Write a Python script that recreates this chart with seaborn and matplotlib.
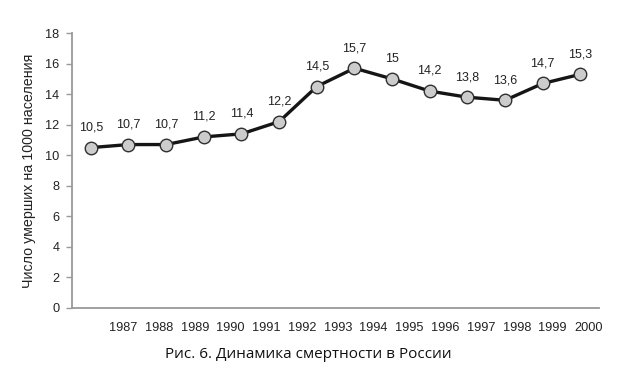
import numpy as np
import pandas as pd
import matplotlib
matplotlib.use("Agg")
import matplotlib.pyplot as plt
import seaborn as sns

# data
years = ["1987", "1988", "1989", "1990", "1991", "1992", "1993",
         "1994", "1995", "1996", "1997", "1998", "1999", "2000"]
mortality = [10.5, 10.7, 10.7, 11.2, 11.4, 12.2, 14.5,
             15.7, 15.0, 14.2, 13.8, 13.6, 14.7, 15.3]
point_labels = ["10,5", "10,7", "10,7", "11,2", "11,4", "12,2", "14,5",
                "15,7", "15", "14,2", "13,8", "13,6", "14,7", "15,3"]

df = pd.DataFrame({"pos": np.arange(len(years)), "value": mortality})

sns.set_style("white")
plt.rcParams["font.family"] = ["Liberation Sans", "DejaVu Sans"]

fig = plt.figure(figsize=(6.39, 3.76), dpi=100)
ax = fig.add_axes([0.1127, 0.181, 0.825, 0.731])

sns.lineplot(data=df, x="pos", y="value", ax=ax, color="#151515", linewidth=2.4,
             marker="o", markersize=9, markerfacecolor="#cccccc",
             markeredgecolor="#303030", markeredgewidth=1.0)

for x, y, lab in zip(df["pos"], df["value"], point_labels):
    ax.annotate(lab, (x, y), xytext=(0, 14.5), textcoords="offset points",
                ha="center", va="center", fontsize=9, color="#222222")

ax.set_xlim(-0.5, len(years) - 0.5)
ax.set_ylim(0, 18)
ax.set_yticks(range(0, 19, 2))
# the year labels sit shifted right of the points in the original
ax.set_xticks(np.arange(len(years)) * 0.95 + 0.86)
ax.set_xticklabels(years)
ax.tick_params(axis="x", length=0, pad=10, labelsize=9.2, colors="#222222")
ax.tick_params(axis="y", length=4, width=1, color="#999999", left=True,
               labelsize=9.2, labelcolor="#222222", pad=5)
ax.set_xlabel("")
ax.set_ylabel("Число умерших на 1000 населения", fontsize=10.3, color="#222222", labelpad=7)

for side in ["top", "right"]:
    ax.spines[side].set_visible(False)
for side in ["left", "bottom"]:
    ax.spines[side].set_color("#999999")
    ax.spines[side].set_linewidth(1.3)

fig.text(0.482, 0.056, "Рис. 6. Динамика смертности в России", ha="center",
         va="center", fontsize=11, family=["Open Sans", "DejaVu Sans"], color="#111111")

fig.savefig("out.png", dpi=100)
